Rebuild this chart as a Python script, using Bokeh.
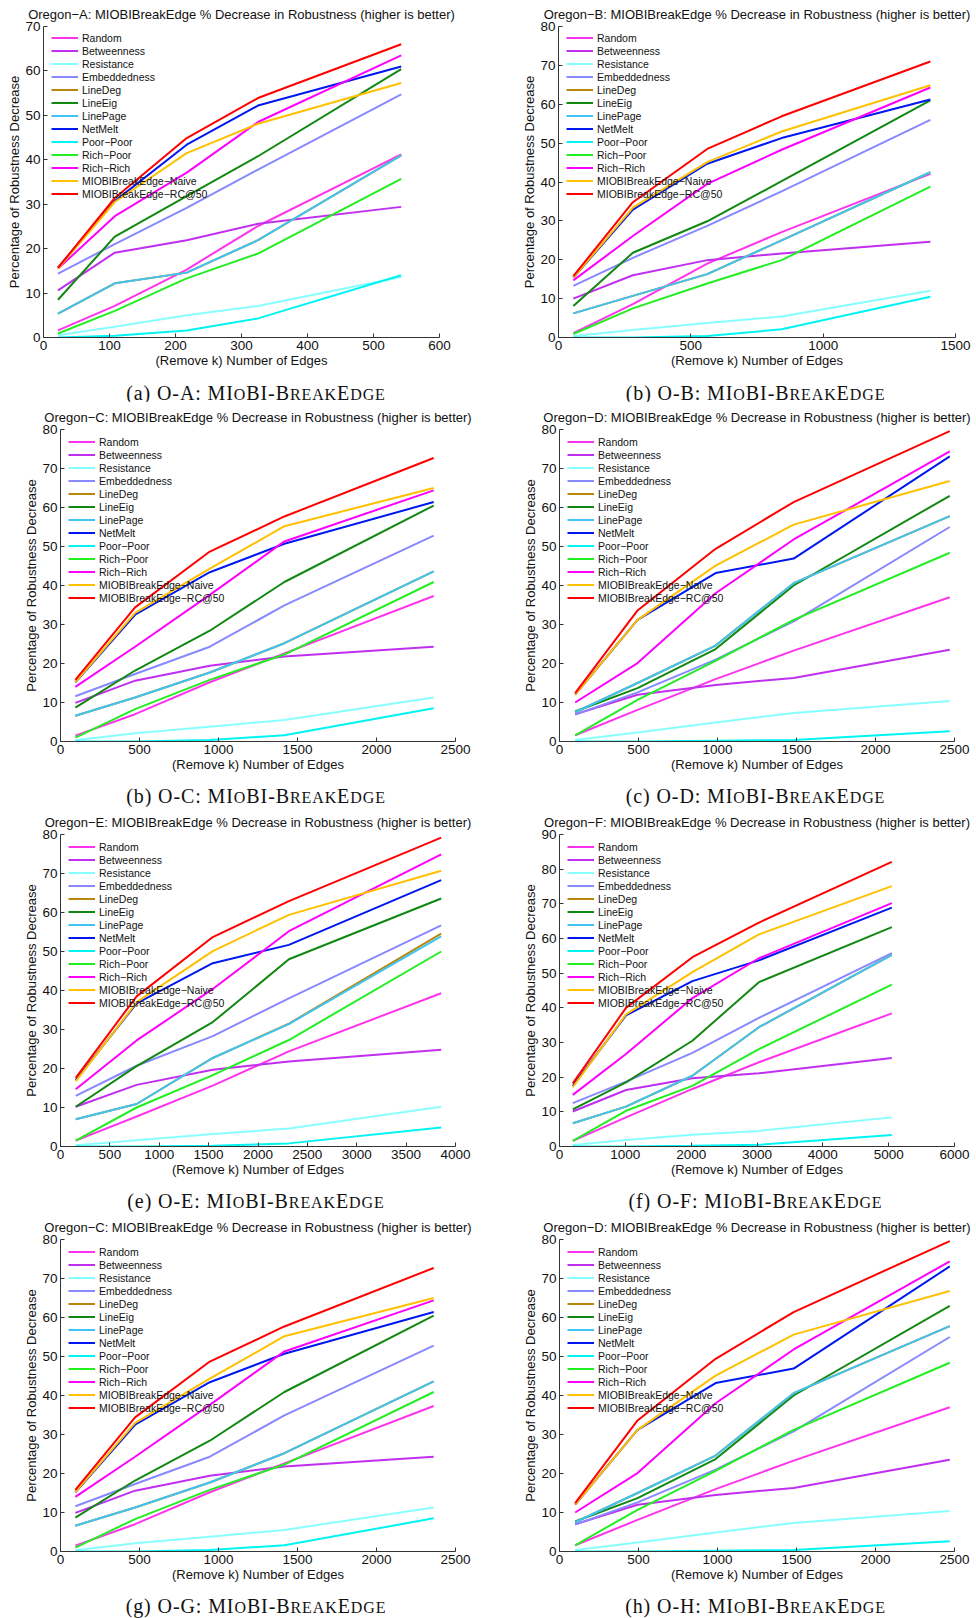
from bokeh.plotting import figure
from bokeh.layouts import column, row
from bokeh.models import Range1d, Legend, LegendItem, Div, FixedTicker
from bokeh.embed import file_html
from bokeh.resources import INLINE

SERIES = ["Random", "Betweenness", "Resistance", "Embeddedness", "LineDeg", "LineEig",
          "LinePage", "NetMelt", "Poor\u2212Poor", "Rich\u2212Poor", "Rich\u2212Rich",
          "MIOBIBreakEdge\u2212Naive", "MIOBIBreakEdge\u2212RC@50"]
COLORS = ["#ff33ee", "#c02ff0", "#88ffff", "#8888ff", "#b8860b", "#118811",
          "#40c4f4", "#0018f0", "#00f4f4", "#22ee22", "#ff00ff", "#ffc000", "#ff0000"]

# ---- Oregon-A ----
X_A = [22, 108, 217, 325, 542]
A_RANDOM = [1.6, 7.1, 15.3, 25.1, 41.2]
A_BETWEENNESS = [10.6, 19.1, 21.9, 25.6, 29.4]
A_RESISTANCE = [0.5, 2.4, 5.0, 7.1, 13.6]
A_EMBEDDEDNESS = [14.4, 21.0, 29.2, 37.8, 54.7]
A_LINEDEG = [5.4, 12.2, 14.6, 21.9, 41.0]
A_LINEEIG = [8.5, 22.7, 31.8, 40.8, 60.4]
A_LINEPAGE = [5.4, 12.2, 14.6, 21.9, 41.0]
A_NETMELT = [15.7, 30.7, 43.4, 52.2, 61.0]
A_POORPOOR = [0.0, 0.4, 1.6, 4.3, 14.0]
A_RICHPOOR = [0.9, 6.0, 13.3, 18.9, 35.7]
A_RICHRICH = [15.5, 27.3, 37.1, 48.5, 63.5]
A_NAIVE = [15.5, 30.5, 41.5, 48.1, 57.3]
A_RC50 = [15.7, 31.4, 44.9, 53.9, 66.0]

# ---- Oregon-B ----
X_B = [56, 281, 562, 843, 1405]
B_RANDOM = [1.1, 8.6, 19.0, 27.1, 42.1]
B_BETWEENNESS = [10.0, 16.0, 19.9, 21.6, 24.6]
B_RESISTANCE = [0.4, 1.9, 3.7, 5.4, 12.0]
B_EMBEDDEDNESS = [13.3, 20.5, 28.7, 37.6, 56.0]
B_LINEDEG = [6.2, 10.7, 16.3, 25.0, 42.5]
B_LINEEIG = [8.1, 21.8, 29.9, 40.2, 61.0]
B_LINEPAGE = [6.2, 10.7, 16.3, 25.0, 42.5]
B_NETMELT = [15.4, 32.9, 44.7, 51.3, 61.2]
B_POORPOOR = [0.0, 0.0, 0.4, 2.1, 10.5]
B_RICHPOOR = [0.9, 7.5, 13.9, 19.9, 38.8]
B_RICHRICH = [14.7, 26.1, 39.5, 48.3, 64.3]
B_NAIVE = [15.4, 33.4, 45.1, 53.0, 64.9]
B_RC50 = [15.8, 34.8, 48.5, 56.9, 71.0]

# ---- Oregon-C ----
X_C = [94, 472, 945, 1417, 2362]
C_RANDOM = [1.5, 7.0, 15.2, 22.6, 37.3]
C_BETWEENNESS = [9.9, 15.6, 19.4, 21.8, 24.3]
C_RESISTANCE = [0.3, 2.1, 3.8, 5.5, 11.3]
C_EMBEDDEDNESS = [11.6, 17.3, 24.3, 34.9, 52.8]
C_LINEDEG = [6.6, 11.3, 17.7, 25.2, 43.6]
C_LINEEIG = [8.7, 18.2, 28.4, 40.9, 60.5]
C_LINEPAGE = [6.6, 11.3, 17.7, 25.2, 43.6]
C_NETMELT = [15.2, 32.5, 43.4, 50.7, 61.4]
C_POORPOOR = [0.0, 0.0, 0.4, 1.6, 8.5]
C_RICHPOOR = [1.0, 8.3, 15.8, 22.3, 40.9]
C_RICHRICH = [14.0, 24.3, 37.6, 51.3, 64.4]
C_NAIVE = [15.2, 33.0, 44.3, 55.2, 65.0]
C_RC50 = [15.8, 34.4, 48.7, 57.7, 72.7]

# ---- Oregon-D ----
X_D = [99, 494, 988, 1482, 2470]
D_RANDOM = [1.6, 8.1, 16.0, 23.3, 37.0]
D_BETWEENNESS = [7.0, 12.0, 14.5, 16.3, 23.5]
D_RESISTANCE = [0.4, 2.3, 4.9, 7.3, 10.4]
D_EMBEDDEDNESS = [6.9, 12.6, 21.0, 30.8, 55.0]
D_LINEDEG = [7.5, 15.0, 24.6, 40.6, 57.8]
D_LINEEIG = [7.7, 13.7, 23.7, 40.0, 63.0]
D_LINEPAGE = [7.5, 15.0, 24.6, 40.6, 57.8]
D_NETMELT = [12.0, 31.2, 43.2, 46.9, 73.1]
D_POORPOOR = [0.0, 0.0, 0.2, 0.4, 2.6]
D_RICHPOOR = [1.6, 10.7, 20.7, 31.2, 48.4]
D_RICHRICH = [10.0, 20.1, 38.0, 51.8, 74.4]
D_NAIVE = [12.0, 31.2, 45.1, 55.6, 66.8]
D_RC50 = [12.4, 33.6, 49.4, 61.4, 79.6]

# ---- Oregon-E ----
X_E = [154, 771, 1542, 2313, 3855]
E_RANDOM = [1.5, 7.7, 15.6, 24.4, 39.3]
E_BETWEENNESS = [10.2, 15.8, 19.7, 21.8, 24.8]
E_RESISTANCE = [0.3, 1.6, 3.2, 4.6, 10.2]
E_EMBEDDEDNESS = [13.0, 20.7, 28.3, 38.0, 56.7]
E_LINEDEG = [7.0, 10.9, 22.7, 31.5, 54.6]
E_LINEEIG = [10.2, 20.6, 31.9, 48.0, 63.6]
E_LINEPAGE = [7.0, 10.9, 22.7, 31.4, 53.9]
E_NETMELT = [17.0, 36.7, 47.0, 51.7, 68.3]
E_POORPOOR = [0.0, 0.0, 0.2, 0.8, 4.9]
E_RICHPOOR = [1.5, 10.0, 18.3, 27.3, 50.0]
E_RICHRICH = [14.7, 27.2, 40.4, 55.2, 74.9]
E_NAIVE = [16.7, 37.0, 50.1, 59.4, 70.7]
E_RC50 = [17.6, 38.5, 53.7, 62.9, 79.2]

# ---- Oregon-F ----
X_F = [202, 1010, 2019, 3029, 5048]
F_RANDOM = [1.6, 8.4, 16.6, 24.3, 38.4]
F_BETWEENNESS = [10.1, 16.3, 19.7, 21.1, 25.5]
F_RESISTANCE = [0.4, 1.9, 3.4, 4.5, 8.4]
F_EMBEDDEDNESS = [12.5, 18.7, 27.0, 37.1, 55.8]
F_LINEDEG = [6.7, 11.5, 20.4, 34.4, 55.3]
F_LINEEIG = [10.7, 18.5, 30.5, 47.4, 63.3]
F_LINEPAGE = [6.7, 11.5, 20.4, 34.4, 55.3]
F_NETMELT = [17.5, 37.8, 47.7, 53.7, 68.9]
F_POORPOOR = [0.0, 0.0, 0.2, 0.5, 3.3]
F_RICHPOOR = [1.6, 10.3, 17.5, 28.1, 46.7]
F_RICHRICH = [14.9, 26.7, 42.8, 54.3, 70.2]
F_NAIVE = [17.1, 38.1, 50.3, 61.2, 75.1]
F_RC50 = [18.2, 40.0, 54.6, 64.6, 82.1]

SETS = {
    "A": (X_A, [A_RANDOM, A_BETWEENNESS, A_RESISTANCE, A_EMBEDDEDNESS, A_LINEDEG, A_LINEEIG,
                A_LINEPAGE, A_NETMELT, A_POORPOOR, A_RICHPOOR, A_RICHRICH, A_NAIVE, A_RC50]),
    "B": (X_B, [B_RANDOM, B_BETWEENNESS, B_RESISTANCE, B_EMBEDDEDNESS, B_LINEDEG, B_LINEEIG,
                B_LINEPAGE, B_NETMELT, B_POORPOOR, B_RICHPOOR, B_RICHRICH, B_NAIVE, B_RC50]),
    "C": (X_C, [C_RANDOM, C_BETWEENNESS, C_RESISTANCE, C_EMBEDDEDNESS, C_LINEDEG, C_LINEEIG,
                C_LINEPAGE, C_NETMELT, C_POORPOOR, C_RICHPOOR, C_RICHRICH, C_NAIVE, C_RC50]),
    "D": (X_D, [D_RANDOM, D_BETWEENNESS, D_RESISTANCE, D_EMBEDDEDNESS, D_LINEDEG, D_LINEEIG,
                D_LINEPAGE, D_NETMELT, D_POORPOOR, D_RICHPOOR, D_RICHRICH, D_NAIVE, D_RC50]),
    "E": (X_E, [E_RANDOM, E_BETWEENNESS, E_RESISTANCE, E_EMBEDDEDNESS, E_LINEDEG, E_LINEEIG,
                E_LINEPAGE, E_NETMELT, E_POORPOOR, E_RICHPOOR, E_RICHRICH, E_NAIVE, E_RC50]),
    "F": (X_F, [F_RANDOM, F_BETWEENNESS, F_RESISTANCE, F_EMBEDDEDNESS, F_LINEDEG, F_LINEEIG,
                F_LINEPAGE, F_NETMELT, F_POORPOOR, F_RICHPOOR, F_RICHRICH, F_NAIVE, F_RC50]),
}

# panel: (dataset, title letter, caption label, caption dataset, xmax, xstep, ymax)
PANELS = [
    ("A", "A", "(a)", "O-A", 600, 100, 70),
    ("B", "B", "(b)", "O-B", 1500, 500, 80),
    ("C", "C", "(b)", "O-C", 2500, 500, 80),
    ("D", "D", "(c)", "O-D", 2500, 500, 80),
    ("E", "E", "(e)", "O-E", 4000, 500, 80),
    ("F", "F", "(f)", "O-F", 6000, 1000, 90),
    ("C", "C", "(g)", "O-G", 2500, 500, 80),
    ("D", "D", "(h)", "O-H", 2500, 500, 80),
]

FONT = "Liberation Sans"
FRAME_H = 312


def make_panel(idx):
    key, tl, clab, cds, xmax, xstep, ymax = PANELS[idx]
    xs, ys_list = SETS[key]
    first_row = idx < 2
    left_col = idx % 2 == 0
    top = 25 if first_row else 28
    bottom = 38
    if idx == 0:
        lft, rgt = 43, 49
    elif idx == 1:
        lft, rgt = 70, 21
    elif left_col:
        lft, rgt = 60, 33
    else:
        lft, rgt = 71, 22
    h = top + FRAME_H + bottom
    p = figure(width=488, height=h, x_range=Range1d(0, xmax), y_range=Range1d(0, ymax),
               output_backend="svg", toolbar_location=None,
               min_border_left=lft, min_border_right=rgt,
               min_border_top=top, min_border_bottom=bottom)
    p.title.text = ("Oregon\u2212" + tl +
                    ": MIOBIBreakEdge % Decrease in Robustness (higher is better)")
    p.title.align = "center"
    p.title.text_font = FONT
    p.title.text_font_size = "13px"
    p.title.text_font_style = "normal"
    p.title.text_color = "#111111"
    p.title.standoff = 9 if first_row else 10
    p.outline_line_color = None
    p.grid.visible = False
    p.background_fill_color = "white"
    p.border_fill_color = "white"

    items = []
    for name, col, ys in zip(SERIES, COLORS, ys_list):
        r = p.line(xs, ys, line_color=col, line_width=2)
        items.append(LegendItem(label=name, renderers=[r]))
    leg = Legend(items=items, location=(8, FRAME_H - 6 - 13 * 13),
                 margin=0, padding=0, spacing=0,
                 glyph_width=27, glyph_height=13, label_height=13,
                 label_standoff=4, label_text_font=FONT,
                 label_text_font_size="10.5px", label_text_color="#111111",
                 background_fill_alpha=0, border_line_alpha=0)
    p.add_layout(leg)

    for ax in (p.xaxis[0], p.yaxis[0]):
        ax.major_tick_in = 4
        ax.major_tick_out = 0
        ax.minor_tick_in = 0
        ax.minor_tick_out = 0
        ax.axis_line_color = "#333333"
        ax.major_tick_line_color = "#333333"
        ax.major_label_text_font = FONT
        ax.major_label_text_font_size = "13.5px"
        ax.major_label_text_color = "#111111"
        ax.axis_label_text_font = FONT
        ax.axis_label_text_font_size = "13px"
        ax.axis_label_text_font_style = "normal"
        ax.axis_label_text_color = "#111111"
    p.xaxis.ticker = FixedTicker(ticks=list(range(0, xmax + 1, xstep)))
    p.yaxis.ticker = FixedTicker(ticks=list(range(0, ymax + 1, 10)))
    p.xaxis.axis_label = "(Remove k) Number of Edges"
    p.yaxis.axis_label = "Percentage of Robustness Decrease"
    p.xaxis.major_label_standoff = 3
    p.xaxis.axis_label_standoff = 0
    p.yaxis.major_label_standoff = 3
    p.yaxis.axis_label_standoff = 0

    cell_h = 401 if first_row else 405
    div_h = cell_h - h
    pad_left = 24 if left_col else 47
    pad_top = 10 if first_row else 9
    sc = "font-size:16px;text-transform:uppercase"
    html = (
        f'<div style="width:488px;box-sizing:border-box;padding-left:{pad_left}px;'
        f'padding-top:{pad_top}px;text-align:center;font-family:\'Liberation Serif\';'
        f'font-size:20px;line-height:16px;letter-spacing:0.9px;color:#111;white-space:nowrap">'
        f'{clab} {cds}: MI<span style="{sc}">o</span>BI-B<span style="{sc}">reak</span>'
        f'E<span style="{sc}">dge</span></div>'
    )
    d = Div(text=html, width=488, height=div_h, margin=0)
    return column(p, d, spacing=0)


cells = [make_panel(i) for i in range(8)]
layout = column(*[row(cells[2 * i], cells[2 * i + 1], spacing=0) for i in range(4)], spacing=0)

open("out.html", "w").write(file_html(layout, INLINE))
